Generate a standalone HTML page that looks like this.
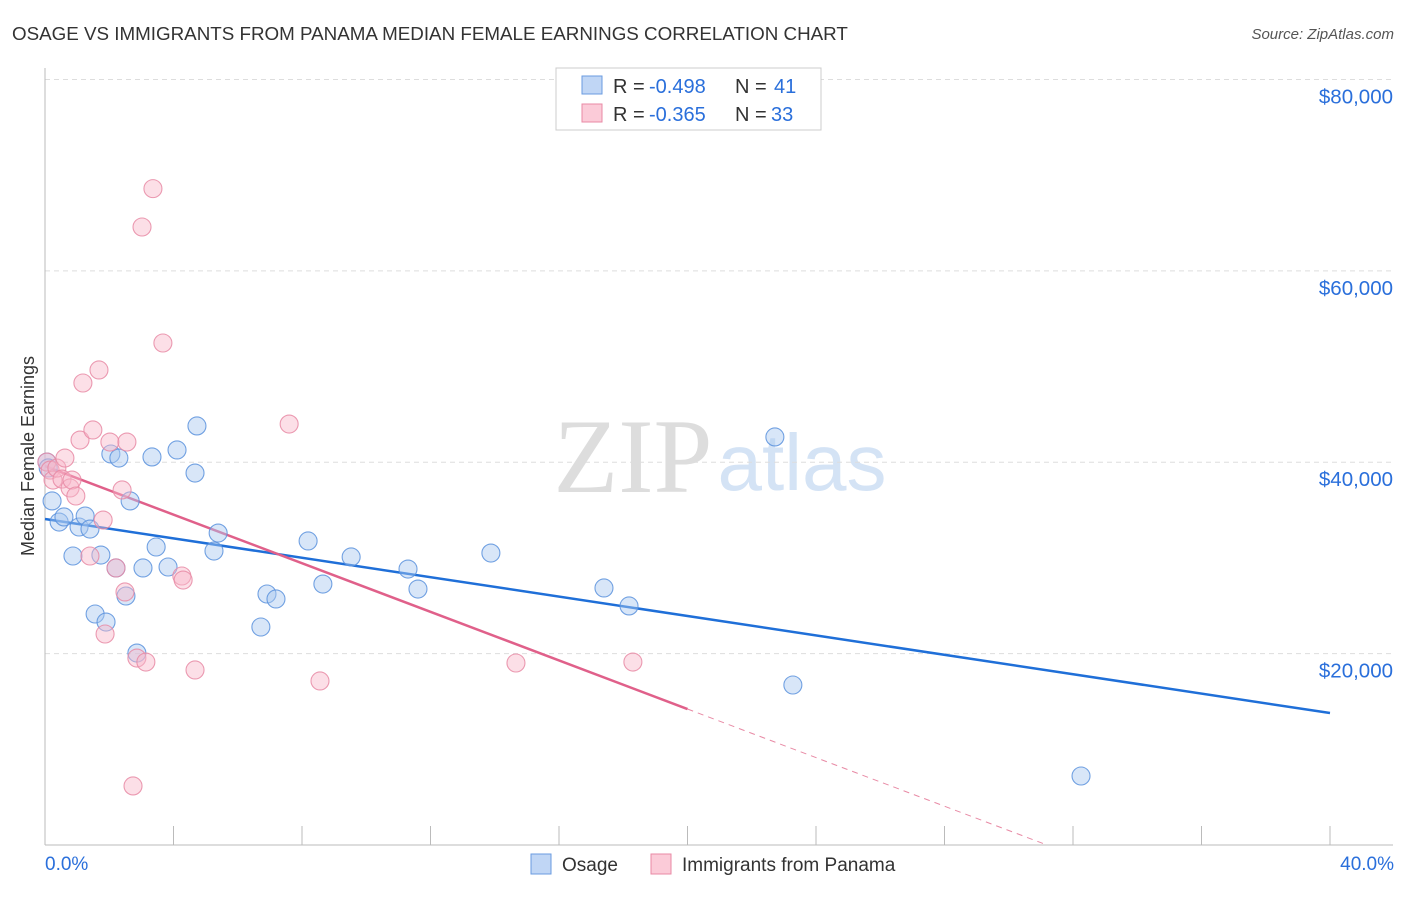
<!DOCTYPE html>
<html><head><meta charset="utf-8"><style>
body{margin:0;background:#fff;font-family:"Liberation Sans",sans-serif}
svg text{font-family:"Liberation Sans",sans-serif}
</style></head><body>
<svg id="c" width="1406" height="892" viewBox="0 0 1406 892">
<text x="12" y="40" font-size="18.8" fill="#333">OSAGE VS IMMIGRANTS FROM PANAMA MEDIAN FEMALE EARNINGS CORRELATION CHART</text>
<text x="1394" y="39" font-size="15" fill="#555" text-anchor="end" font-style="italic">Source: ZipAtlas.com</text>
<g>
<text x="633" y="492" font-size="106" fill="#ddd" text-anchor="middle" style="font-family:'Liberation Serif',serif">ZIP</text>
<text x="802" y="490" font-size="80" fill="#d4e3f5" text-anchor="middle">atlas</text>
</g>
<g id="grid"></g>
<g id="axes"></g>
<g id="lines"></g>
<g id="pts"></g>
<text transform="translate(34,456) rotate(-90)" font-size="18" fill="#333" text-anchor="middle">Median Female Earnings</text>
<g>
<rect x="556" y="68" width="265" height="62" fill="#fff" stroke="#ccc"/>
<rect x="582" y="76" width="20" height="18" fill="#c0d6f5" stroke="#6a9be0"/>
<rect x="582" y="104" width="20" height="18" fill="#fbcbd8" stroke="#e88aa5"/>
<text x="613" y="93" font-size="20" fill="#333">R =</text><text x="649" y="93" font-size="20" fill="#2a6fdb">-0.498</text>
<text x="735" y="93" font-size="20" fill="#333">N =</text><text x="774" y="93" font-size="20" fill="#2a6fdb">41</text>
<text x="613" y="121" font-size="20" fill="#333">R =</text><text x="649" y="121" font-size="20" fill="#2a6fdb">-0.365</text>
<text x="735" y="121" font-size="20" fill="#333">N =</text><text x="771" y="121" font-size="20" fill="#2a6fdb">33</text>
</g>
<g>
<rect x="531" y="854" width="20" height="20" fill="#c0d6f5" stroke="#6a9be0"/>
<text x="562" y="871" font-size="19" fill="#333">Osage</text>
<rect x="651" y="854" width="20" height="20" fill="#fbcbd8" stroke="#e88aa5"/>
<text x="682" y="871" font-size="19" fill="#333">Immigrants from Panama</text>
</g>
</svg>
<script>
const yTicks=[20000,40000,60000,80000];
const yTickLabels=["$20,000","$40,000","$60,000","$80,000"];
const xTickLabels=["0.0%","40.0%"];
const osageX=[0.22,0.44,0.59,0.87,1.06,1.25,1.40,1.56,1.74,1.90,2.05,2.21,2.30,2.52,2.65,2.86,3.05,3.33,3.46,3.83,4.11,4.67,4.73,5.26,5.39,6.72,6.91,7.19,8.19,8.65,9.53,11.3,11.61,13.88,17.4,18.18,22.72,23.28,32.25,0.06,0.1];
const osageY=[35950,33750,34280,30200,33230,34380,33020,24140,30300,23300,40860,28950,40440,26020,35950,20060,28950,40550,31140,29050,41280,38870,43790,30720,32600,22780,26230,25710,31770,27270,30100,28840,26750,30510,26860,24980,42640,16720,7210,40020,39400];
const panX=[0.06,0.16,0.25,0.37,0.53,0.62,0.78,0.84,0.96,1.09,1.18,1.40,1.49,1.68,1.81,1.87,2.02,2.21,2.40,2.49,2.55,2.74,2.86,3.02,3.14,3.36,3.67,4.26,4.30,4.67,7.60,8.56,14.66,18.3];
const panY=[40020,39180,38140,39390,38240,40440,37310,38140,36470,42320,48280,30200,43370,49640,33960,22050,42110,28950,37100,26440,42110,6170,19540,64580,19120,68590,52460,28110,27690,18290,43990,17140,19020,19120];
const osageFit=[34070,13790];
const panFit=[39600,14210];
const X=p=>45+p*32.125, Y=v=>845-v/104.5;
const NS="http://www.w3.org/2000/svg";
function mk(t,a,parent){const e=document.createElementNS(NS,t);for(const k in a)e.setAttribute(k,a[k]);document.getElementById(parent).appendChild(e);return e;}
yTicks.forEach((v,i)=>{
 const g=mk('line',{x1:45,x2:1393,y1:Y(v),y2:Y(v),stroke:'#ddd','stroke-dasharray':'5,4'},'grid');
 
 
 const t=mk('text',{x:1393,y:Y(v)+24,'font-size':20.5,fill:'#2a6fdb','text-anchor':'end'},'axes');t.textContent=yTickLabels[i];
 
 
});
const ax=mk('line',{x1:45,x2:45,y1:68,y2:845,stroke:'#bbb'},'axes');


const bx=mk('line',{x1:45,x2:1393,y1:845,y2:845,stroke:'#bbb'},'axes');


for(let i=0;i<=10;i++){const tk=mk('line',{x1:X(i*4),x2:X(i*4),y1:826,y2:845,stroke:'#bbb'},'axes');
 
 }
[[0,'start',45],[40,'end',1394]].forEach((d,i)=>{const t=mk('text',{x:d[2],y:870,'font-size':19,fill:'#2a6fdb','text-anchor':d[1]},'axes');t.textContent=xTickLabels[i];
 
 });
function pts(xs,ys,fill,stroke,name){xs.forEach((x,i)=>{const c=mk('circle',{cx:X(x),cy:Y(ys[i]),r:9,fill:fill,stroke:stroke,'stroke-width':1.1,'fill-opacity':0.45,'stroke-opacity':0.85},'pts');
 
 });}
pts(osageX,osageY,'#a9c8f0','#5b92dd','osage-point');
pts(panX,panY,'#f8b7c9','#e88aa5','panama-point');
const slope=(panFit[1]-panFit[0])/20, zeroP=-panFit[0]/slope;
const l1=mk('line',{x1:X(0),y1:Y(osageFit[0]),x2:X(40),y2:Y(osageFit[1]),stroke:'#1f6fd8','stroke-width':2.5},'lines');


const l2=mk('line',{x1:X(0),y1:Y(panFit[0]),x2:X(20),y2:Y(panFit[1]),stroke:'#e0608a','stroke-width':2.5},'lines');


const l3=mk('line',{x1:X(20),y1:Y(panFit[1]),x2:X(zeroP),y2:Y(0),stroke:'#e88aa5','stroke-width':1,'stroke-dasharray':'6,5'},'lines');


</script>
</body></html>
